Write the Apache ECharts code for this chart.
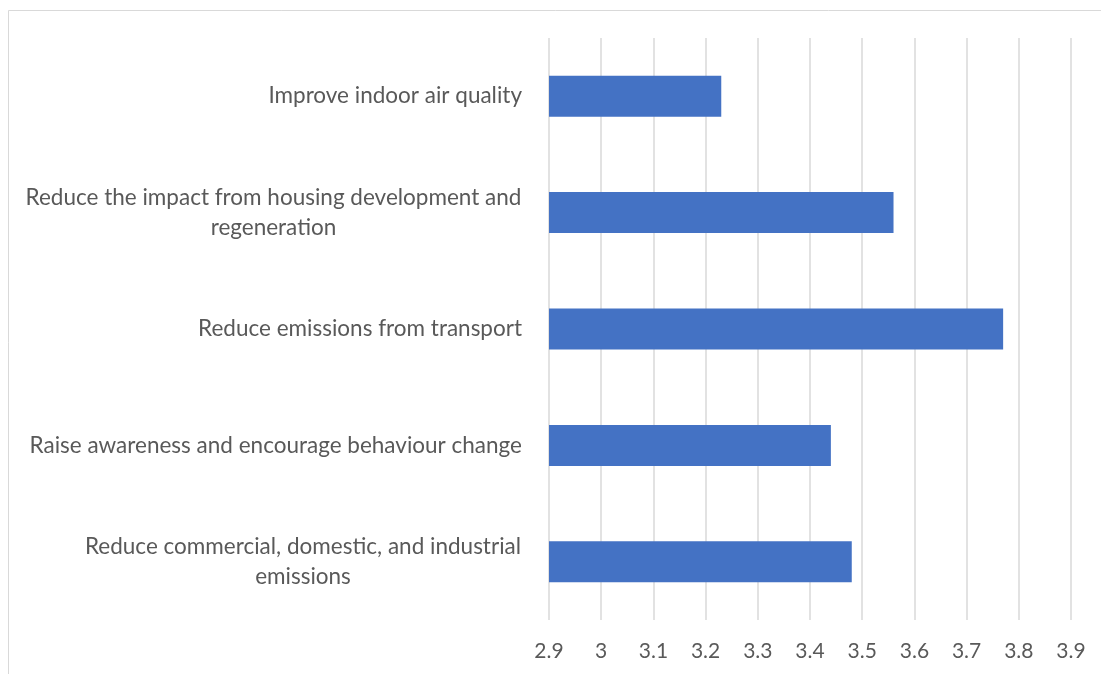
<!DOCTYPE html>
<html>
<head>
<meta charset="utf-8">
<script src="https://cdn.jsdelivr.net/npm/echarts@6/dist/echarts.min.js"></script>
<style>
html,body{margin:0;padding:0;background:#fff;}
#chart{width:1101px;height:674px;}
</style>
</head>
<body>
<div id="chart"></div>
<script>
// ---- data ----
const categories = [
  'Improve indoor air quality',
  'Reduce the impact from housing development and regeneration',
  'Reduce emissions from transport',
  'Raise awareness and encourage behaviour change',
  'Reduce commercial, domestic, and industrial emissions'
];
const values = [3.23, 3.56, 3.77, 3.44, 3.48];
const axisMin = 2.9;
const axisMax = 3.9;
const axisStep = 0.1;

// ---- styling ----
const FONT = 'Lato';
const FS = 22.5;
const TXT = '#595959';
const WRAP = 505;

const ctx = document.createElement('canvas').getContext('2d');
ctx.font = FS + 'px ' + FONT;
function wrap(text) {
  const words = text.split(' ');
  const lines = [];
  let cur = '';
  words.forEach(w => {
    const t = cur ? cur + ' ' + w : w;
    if (ctx.measureText(t).width > WRAP && cur) { lines.push(cur); cur = w; }
    else cur = t;
  });
  if (cur) lines.push(cur);
  return lines;
}
const rich = {};
const labelText = categories.map((c, i) => {
  const lines = wrap(c);
  if (lines.length === 1) return c;
  const w = Math.max(...lines.map(l => ctx.measureText(l).width));
  rich['w' + i] = {width: Math.ceil(w) + 1, align: 'center', fontSize: FS, fontFamily: FONT, color: TXT, lineHeight: 30};
  return lines.map(l => '{w' + i + '|' + l + '}').join('\n');
});

const chart = echarts.init(document.getElementById('chart'), null, {renderer: 'canvas'});
chart.setOption({
  animation: false,
  backgroundColor: '#ffffff',
  graphic: [{
    type: 'rect', silent: true, z: -1,
    shape: {x: 8.5, y: 10.5, width: 1300, height: 900},
    style: {fill: 'none', stroke: '#d9d9d9', lineWidth: 1}
  }],
  grid: {left: 549, right: 30, top: 38, bottom: 54, containLabel: false},
  xAxis: {
    type: 'value', min: axisMin, max: axisMax, interval: axisStep,
    axisLine: {show: false}, axisTick: {show: false},
    splitLine: {show: true, lineStyle: {color: '#d9d9d9', width: 1.5}},
    axisLabel: {color: TXT, fontSize: 21, fontFamily: FONT, margin: 21,
      formatter: v => String(Math.round(v * 10) / 10)}
  },
  yAxis: {
    type: 'category', data: categories, inverse: true,
    axisLine: {show: false}, axisTick: {show: false},
    axisLabel: {color: TXT, fontSize: FS, fontFamily: FONT, margin: 27, interval: 0,
      lineHeight: 30, rich: rich,
      formatter: v => labelText[categories.indexOf(v)]}
  },
  series: [{
    type: 'bar', data: values, barWidth: 41,
    itemStyle: {color: '#4472C4'}
  }]
});
</script>
</body>
</html>
